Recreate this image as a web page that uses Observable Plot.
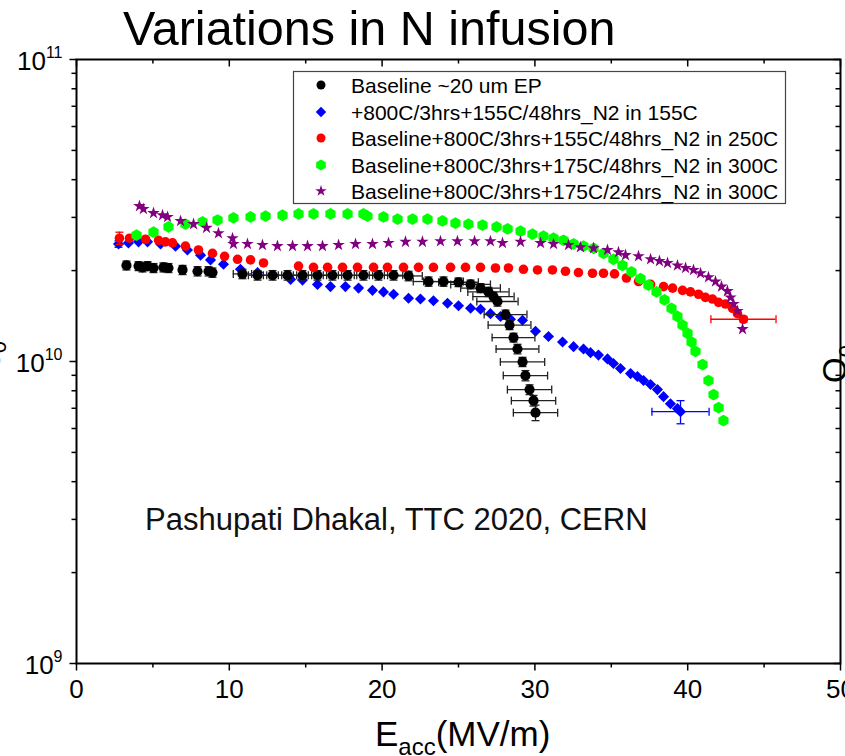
<!DOCTYPE html>
<html>
<head>
<meta charset="utf-8">
<script src="https://cdn.jsdelivr.net/npm/d3@7"></script>
<script src="https://cdn.jsdelivr.net/npm/@observablehq/plot@0.6"></script>
<style>
  html, body { margin: 0; padding: 0; background: #fff; overflow: hidden; }
  #chart svg { display: block; }
</style>
</head>
<body>
<div id="chart"></div>
<script>
const FONT = "'Liberation Sans', Arial, Helvetica, sans-serif";

// ---------- Text ----------
const titleText = "Variations in N infusion";
const noteText = "Pashupati Dhakal, TTC 2020, CERN";
const seriesNames = [
  "Baseline ~20 um EP",
  "+800C/3hrs+155C/48hrs_N2 in 155C",
  "Baseline+800C/3hrs+155C/48hrs_N2 in 250C",
  "Baseline+800C/3hrs+175C/48hrs_N2 in 300C",
  "Baseline+800C/3hrs+175C/24hrs_N2 in 300C"
];
const seriesColors = ["#000000", "#0000ff", "#ff0000", "#00ff00", "#800080"];

// ---------- Ticks ----------
const xMajor = [0, 10, 20, 30, 40, 50];
const xMinor = [5, 15, 25, 35, 45];
const yMajor = [1e9, 1e10, 1e11];
const yMinor = [1e9, 1e10].flatMap(b => [2, 3, 4, 5, 6, 7, 8, 9].map(k => k * b));

// ---------- Data: E_acc (MV/m), Q0 in units of 1e10 ----------
// Baseline ~20 um EP (black)
const blackE = [3.27,4.06,4.32,4.65,5.04,5.69,6.02,6.94,7.92,8.64,8.90,10.86,11.85,12.83,13.81,14.79,15.77,16.75,17.74,18.78,19.76,20.75,21.73,23.04,24.02,25.00,25.79,26.44,26.96,27.29,27.55,28.08,28.34,28.60,28.86,29.19,29.38,29.65,29.91,30.04];
const blackQ = [2.08,2.07,2.05,2.07,2.04,2.05,2.04,2.01,1.99,1.99,1.97,1.95,1.93,1.93,1.93,1.93,1.93,1.93,1.93,1.93,1.93,1.93,1.92,1.84,1.84,1.83,1.80,1.75,1.70,1.64,1.58,1.43,1.32,1.20,1.10,0.997,0.898,0.807,0.742,0.677];
const blackQerr = [0.07,0.07,0.07,0.07,0.07,0.07,0.07,0.07,0.07,0.07,0.07,0.07,0.07,0.07,0.07,0.07,0.07,0.07,0.07,0.07,0.07,0.07,0.07,0.065,0.065,0.06,0.06,0.06,0.06,0.055,0.055,0.05,0.045,0.04,0.04,0.035,0.035,0.03,0.03,0.04];
const blackEerr = [0,0,0,0,0,0,0,0,0,0,0,0.6,0.6,0.6,0.6,0.6,0.6,0.6,0.6,0.6,0.6,0.6,0.9,1.0,1.3,1.3,1.3,1.3,1.35,1.35,1.35,1.4,1.4,1.4,1.4,1.45,1.45,1.45,1.45,1.45];

// +800C/3hrs+155C/48hrs_N2 in 155C (blue)
const blueE = [2.75,3.40,4.06,4.65,5.50,6.48,7.26,8.12,8.77,9.62,10.73,11.85,12.89,14.01,14.79,15.77,16.62,17.60,18.46,19.37,20.09,20.75,21.73,22.51,23.36,24.28,25.00,25.79,26.44,27.09,27.75,28.40,29.19,30.04,30.89,31.81,32.53,33.18,33.64,34.16,34.75,35.14,35.60,36.26,36.71,37.11,37.57,38.02,38.42,38.87,39.33,39.53];
const blueQ = [2.45,2.47,2.49,2.49,2.45,2.41,2.34,2.25,2.17,2.10,2.02,1.97,1.93,1.87,1.86,1.80,1.77,1.77,1.75,1.72,1.70,1.67,1.62,1.61,1.59,1.56,1.53,1.50,1.49,1.44,1.41,1.38,1.37,1.26,1.21,1.16,1.12,1.10,1.07,1.05,1.02,0.985,0.948,0.912,0.892,0.865,0.839,0.807,0.765,0.725,0.698,0.682];
const blueErrIndex = [0, 51];
const blueQerr = [0.06, 0.06];
const blueEerr = [0, 1.87];

// Baseline+800C/3hrs+155C/48hrs_N2 in 250C (red)
const redE = [2.81,3.47,4.52,5.37,5.82,6.28,7.13,7.98,8.90,9.69,10.54,11.39,12.24,14.53,15.51,16.43,17.41,18.39,19.44,20.35,21.40,22.38,23.36,24.48,25.46,26.44,27.42,28.27,29.25,30.17,31.15,32.00,32.85,33.77,34.49,35.21,35.99,36.78,37.57,38.42,39.01,39.66,40.18,40.71,41.16,41.62,42.02,42.47,42.93,43.26,43.65];
const redQ = [2.56,2.56,2.54,2.52,2.49,2.47,2.41,2.34,2.28,2.23,2.18,2.17,2.12,2.07,2.05,2.05,2.05,2.05,2.05,2.05,2.05,2.05,2.05,2.05,2.05,2.05,2.04,2.04,2.02,2.01,2.01,1.99,1.97,1.96,1.96,1.95,1.89,1.84,1.80,1.77,1.75,1.72,1.70,1.67,1.63,1.61,1.57,1.55,1.50,1.44,1.38];
const redErrIndex = [0, 50];
const redQerr = [0.12, 0.03];
const redEerr = [0, 2.13];

// Baseline+800C/3hrs+175C/48hrs_N2 in 300C (green)
const greenE = [3.93,5.04,6.02,7.13,8.25,9.23,10.27,11.39,12.37,13.48,14.53,15.51,16.62,17.74,18.78,19.04,20.09,21.01,21.99,22.97,23.95,24.80,25.65,26.57,27.49,28.21,29.06,29.84,30.56,31.22,31.87,32.53,33.18,33.84,34.49,35.14,35.73,36.32,36.91,37.43,37.96,38.48,38.94,39.33,39.66,39.99,40.25,40.51,40.97,41.36,41.69,42.02,42.34];
const greenQ = [2.62,2.68,2.79,2.85,2.90,2.94,2.99,3.01,3.03,3.05,3.08,3.08,3.08,3.08,3.08,3.03,3.01,2.96,2.96,2.96,2.92,2.87,2.85,2.83,2.79,2.75,2.70,2.64,2.60,2.56,2.52,2.45,2.41,2.37,2.28,2.18,2.08,1.98,1.88,1.79,1.70,1.60,1.50,1.41,1.32,1.24,1.16,1.08,0.977,0.865,0.777,0.703,0.637];

// Baseline+800C/3hrs+175C/24hrs_N2 in 300C (purple)
const purpleE = [4.12,4.38,5.04,5.63,5.96,6.81,7.66,8.51,9.29,10.21,10.27,11.19,12.17,13.15,14.14,15.12,16.10,17.15,18.26,19.37,20.42,21.53,22.64,23.82,24.93,26.05,27.09,27.88,29.06,30.37,31.22,32.20,32.98,33.84,34.75,35.47,35.93,36.78,37.57,38.15,38.68,39.33,39.86,40.38,40.84,41.36,41.82,42.21,42.60,42.80,43.00,43.26,43.59];
const purpleQ = [3.27,3.20,3.10,3.05,3.01,2.92,2.85,2.77,2.66,2.56,2.45,2.45,2.43,2.41,2.41,2.41,2.41,2.43,2.45,2.45,2.47,2.49,2.49,2.50,2.50,2.50,2.50,2.47,2.49,2.47,2.45,2.43,2.39,2.37,2.34,2.30,2.25,2.23,2.18,2.15,2.12,2.08,2.04,2.01,1.96,1.90,1.84,1.77,1.71,1.63,1.55,1.47,1.28];

// ---------- Build rows ----------
const toRows = (E, Q) => E.map((e, i) => ({E: e, Q: Q[i] * 1e10}));
const errRows = (rows, idx, qe, ee) => idx.map((k, j) => ({E: rows[k].E, Q: rows[k].Q, qe: qe[j] * 1e10, ee: ee[j]}));

const black = toRows(blackE, blackQ);
const blue = toRows(blueE, blueQ);
const red = toRows(redE, redQ);
const green = toRows(greenE, greenQ);
const purple = toRows(purpleE, purpleQ);

const blackErr = errRows(black, black.map((d, i) => i), blackQerr, blackEerr);
const blueErr = errRows(blue, blueErrIndex, blueQerr, blueEerr);
const redErr = errRows(red, redErrIndex, redQerr, redEerr);

// ---------- Helpers ----------
const seg = (x1, y1, x2, y2) => ({draw(c) { c.moveTo(x1, y1); c.lineTo(x2, y2); }});
const hCap = seg(-4, 0, 4, 0);
const vCap = seg(0, -4, 0, 4);

function errorBarMarks(errs, color) {
  const v = errs.filter(d => d.qe > 0), h = errs.filter(d => d.ee > 0);
  const s = {stroke: color, strokeWidth: 1.3, fill: "none"};
  return [
    Plot.ruleX(v, {x: "E", y1: d => d.Q - d.qe, y2: d => d.Q + d.qe, ...s}),
    Plot.dot(v, {x: "E", y: d => d.Q + d.qe, symbol: hCap, ...s}),
    Plot.dot(v, {x: "E", y: d => d.Q - d.qe, symbol: hCap, ...s}),
    Plot.ruleY(h, {y: "Q", x1: d => d.E - d.ee, x2: d => d.E + d.ee, ...s}),
    Plot.dot(h, {x: d => d.E - d.ee, y: "Q", symbol: vCap, ...s}),
    Plot.dot(h, {x: d => d.E + d.ee, y: "Q", symbol: vCap, ...s})
  ];
}

const tickStyle = {stroke: "black", strokeWidth: 1.5, fill: "none"};

const svg = Plot.plot({
  width: 845,
  height: 756,
  marginLeft: 76,
  marginRight: 5,
  marginTop: 59,
  marginBottom: 93,
  style: {fontFamily: FONT, fontSize: "26px", background: "white", color: "black"},
  x: {domain: [0, 50], ticks: xMajor, tickSize: 0, tickPadding: 16, label: null, tickFormat: d => String(d)},
  y: {type: "log", domain: [1e9, 1e11], ticks: yMajor, tickSize: 0, tickPadding: 14, label: null,
      tickFormat: d => "10^" + Math.round(Math.log10(d))},
  marks: [
    // axis ticks
    Plot.dot(xMajor, {x: d => d, frameAnchor: "bottom", symbol: seg(0, 0, 0, 7), ...tickStyle}),
    Plot.dot(xMinor, {x: d => d, frameAnchor: "bottom", symbol: seg(0, 0, 0, 4), ...tickStyle}),
    Plot.dot(xMajor, {x: d => d, frameAnchor: "top", symbol: seg(0, 0, 0, 7), ...tickStyle}),
    Plot.dot(xMinor, {x: d => d, frameAnchor: "top", symbol: seg(0, 0, 0, 4), ...tickStyle}),
    Plot.dot(yMajor, {y: d => d, frameAnchor: "left", symbol: seg(0, 0, -7, 0), ...tickStyle}),
    Plot.dot(yMinor, {y: d => d, frameAnchor: "left", symbol: seg(0, 0, -5, 0), ...tickStyle}),
    Plot.dot(yMajor, {y: d => d, frameAnchor: "right", symbol: seg(0, 0, -7, 0), ...tickStyle}),
    Plot.dot(yMinor, {y: d => d, frameAnchor: "right", symbol: seg(0, 0, -5, 0), ...tickStyle}),
    // data
    ...errorBarMarks(blueErr, seriesColors[1]),
    Plot.dot(blue, {x: "E", y: "Q", symbol: "diamond2", r: 5, fill: seriesColors[1], stroke: "none"}),
    ...errorBarMarks(blackErr, "#222"),
    Plot.dot(black, {x: "E", y: "Q", symbol: "circle", r: 5.1, fill: seriesColors[0], stroke: "none"}),
    ...errorBarMarks(redErr, seriesColors[2]),
    Plot.dot(red, {x: "E", y: "Q", symbol: "circle", r: 4.8, fill: seriesColors[2], stroke: "none"}),
    Plot.dot(green, {x: "E", y: "Q", symbol: "hexagon", r: 5.1, fill: seriesColors[3], stroke: "none"}),
    Plot.dot(purple, {x: "E", y: "Q", symbol: "star", r: 3.9, fill: seriesColors[4], stroke: "none"}),
    Plot.frame({stroke: "black", strokeWidth: 2})
  ]
});

document.getElementById("chart").appendChild(svg);

// ---------- Post-processing: tick label sizes and superscripts ----------
const root = d3.select(svg);
root.selectAll("text").each(function () {
  const txt = this.textContent;
  const m = /^10\^(\d+)$/.exec(txt);
  if (m) {
    const t = d3.select(this);
    t.text("").attr("y", "0.42em").attr("dy", 0).attr("font-size", 26);
    t.append("tspan").text("10");
    t.append("tspan").attr("dy", -12).attr("font-size", 16).text(m[1]);
  } else if (/^\d+$/.test(txt)) {
    d3.select(this).attr("font-size", 26);
  }
});

const ff = FONT;
const addText = (x, y, size, str) => root.append("text").attr("x", x).attr("y", y)
  .attr("font-family", ff).attr("font-size", size).attr("text-anchor", "start").attr("fill", "black").text(str);

// Title
addText(123, 45, 48.5, titleText);

// Annotation
addText(145, 530, 31, noteText).attr("fill", "#111");

// X axis label
const xl = addText(375, 746, 35, "");
xl.append("tspan").text("E");
xl.append("tspan").attr("font-size", 24).attr("dy", 9).text("acc");
xl.append("tspan").attr("dy", -9).text("(MV/m)");

// Y axis labels (left and right, partly outside the window)
function qLabel(x, y, subDy) {
  const t = root.append("text").attr("transform", `translate(${x},${y}) rotate(-90)`)
    .attr("text-anchor", "middle").attr("font-family", ff).attr("font-size", 33).attr("fill", "black");
  t.append("tspan").text("Q");
  t.append("tspan").attr("font-size", 22).attr("dy", subDy).text("0");
}
qLabel(-6, 360, 12);
qLabel(846, 364, 8);

// Legend
const lg = root.append("g");
lg.append("rect").attr("x", 293.5).attr("y", 71.5).attr("width", 492).attr("height", 132)
  .attr("fill", "white").attr("stroke", "#444").attr("stroke-width", 1.2);
const hexType = {draw(c, size) {
  const rx = Math.sqrt(size / Math.PI), ry = rx * 2 / Math.sqrt(3), hy = ry / 2;
  c.moveTo(0, ry); c.lineTo(rx, hy); c.lineTo(rx, -hy); c.lineTo(0, -ry); c.lineTo(-rx, -hy); c.lineTo(-rx, hy); c.closePath();
}};
const legendSymbols = [
  [d3.symbolCircle, 4.5], [d3.symbolDiamond2, 4.7], [d3.symbolCircle, 4.5], [hexType, 4.8], [d3.symbolStar, 3.6]
];
const rowY = [85, 112, 138, 165, 191];
seriesNames.forEach((name, i) => {
  const [type, r] = legendSymbols[i];
  lg.append("path").attr("transform", `translate(321,${rowY[i]})`)
    .attr("d", d3.symbol(type, Math.PI * r * r)()).attr("fill", seriesColors[i]);
  addText(351, rowY[i] + 7.5, 21, name);
});
</script>
</body>
</html>
